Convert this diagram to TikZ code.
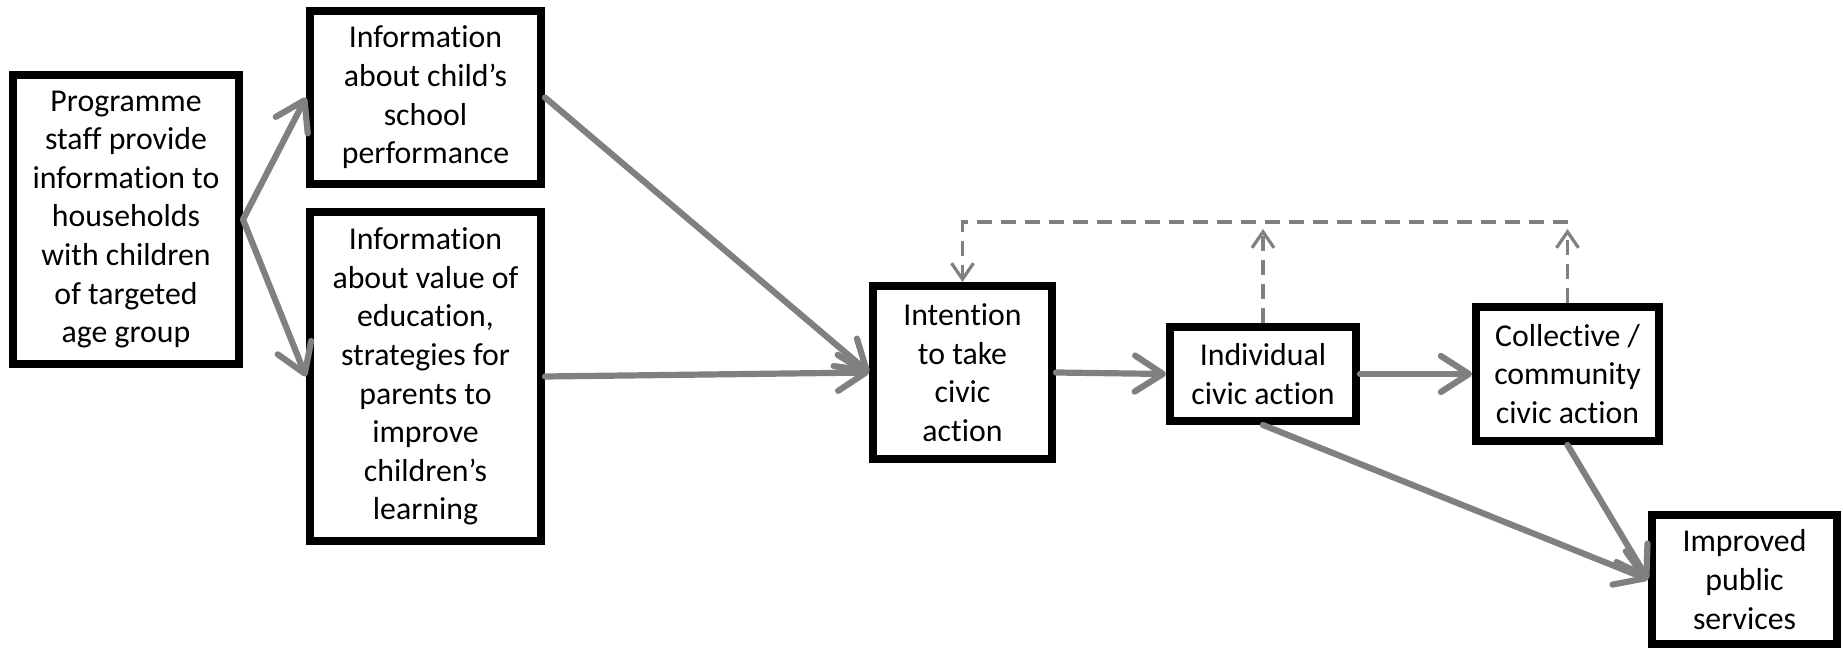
\documentclass[tikz,border=0pt]{standalone}
\usepackage{fontspec}
\setmainfont{Carlito}[Ligatures=NoCommon]
\usetikzlibrary{arrows.meta}
\definecolor{arrowgray}{RGB}{128,128,128}
\begin{document}
\begin{tikzpicture}[x=0.5pt,y=-0.5pt,
  box/.style={draw=black, line width=3.8pt, fill=white, align=center, inner sep=0pt,
    font=\fontsize{15.9}{19.3}\selectfont},
  flow/.style={draw=arrowgray, line width=3.1pt, line cap=round,
    -{Straight Barb[length=14pt,width=18pt,round]}},
  fb/.style={draw=arrowgray, line width=1.6pt, dash pattern=on 7.5pt off 4.5pt,
    -{Straight Barb[length=8pt,width=11pt]}},
]
\useasboundingbox (0,0) rectangle (1843,652);

\node[box, minimum width=113.2pt, minimum height=144.7pt] (A) at (126,219.5)
  {Programme\\staff provide\\information to\\households\\with children\\of targeted\\age group};
\node[box, minimum width=115.7pt, minimum height=86.7pt] (B) at (425.5,97.5)
  {Information\\about child’s\\school\\performance};
\node[box, minimum width=115.7pt, minimum height=164.7pt] (C) at (425.5,376.5)
  {Information\\about value of\\education,\\strategies for\\parents to\\improve\\children’s\\learning};
\node[box, minimum width=89.7pt, minimum height=86.7pt] (D) at (962.5,372.5)
  {Intention\\to take\\civic\\action};
\node[box, minimum width=93.2pt, minimum height=47.2pt] (E) at (1263,374)
  {Individual\\civic action};
\node[box, minimum width=91.7pt, minimum height=67.2pt] (F) at (1567.5,374)
  {Collective /\\community\\civic action};
\node[box, minimum width=92.7pt, minimum height=64.7pt] (G) at (1744.5,579.5)
  {Improved\\public\\services};

\draw[flow] (A.east) -- (B.west);
\draw[flow] (A.east) -- (C.west);
\draw[flow] (B.east) -- (D.west);
\draw[flow] (C.east) -- (D.west);
\draw[flow] (D.east) -- (E.west);
\draw[flow] (E.east) -- (F.west);
\draw[flow] (E.south) -- (G.west);
\draw[flow] (F.south) -- (G.west);

\coordinate (topline) at (0,222);
\coordinate (tipline) at (0,229);
\draw[fb] (F.north |- topline) -- (D.north |- topline) -- (D.north);
\draw[fb] (E.north) -- (E.north |- tipline);
\draw[fb] (F.north) -- (F.north |- tipline);
\end{tikzpicture}
\end{document}
